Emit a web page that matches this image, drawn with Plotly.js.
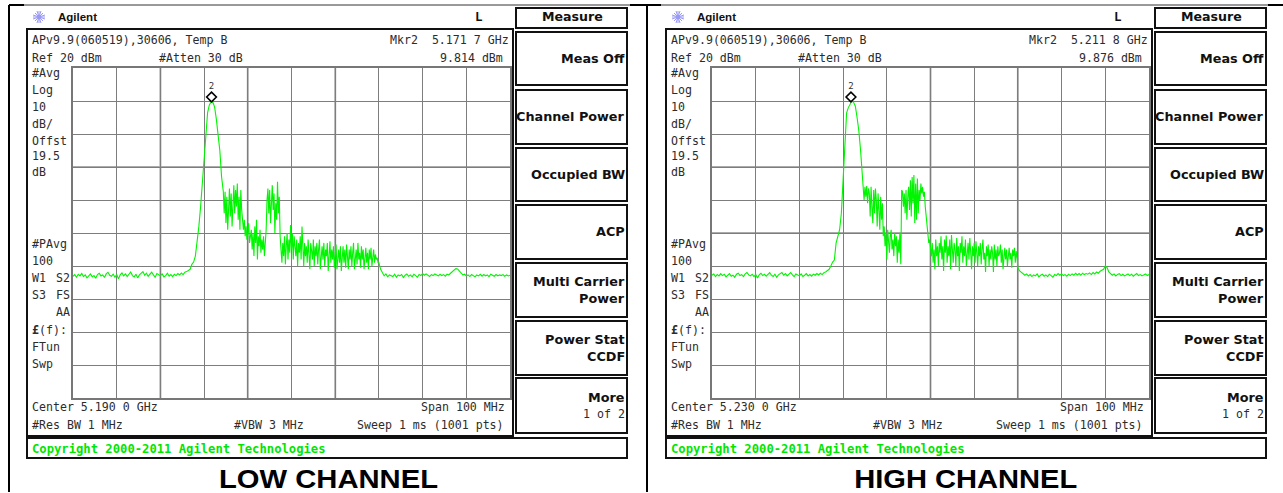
<!DOCTYPE html>
<html><head><meta charset="utf-8">
<script src="https://cdn.plot.ly/plotly-3.0.1.min.js"></script>
<style>html,body{margin:0;padding:0;background:#fff}#c{width:1283px;height:493px}</style></head>
<body><div id="c"></div>
<script>
// Readings in dBm. Lead: 0 to 34.4 MHz of the span, every 0.4 MHz.
// Burst: 34.6 to 69.8 MHz, every 0.2 MHz. Tail: 70 to 100 MHz, every 0.4 MHz.
const lowLeadDbm = [
-43.1,-42.6,-43.4,-42.5,-43.0,-42.3,-43.2,-42.7,-43.6,-42.8,
-42.4,-43.3,-42.9,-43.7,-42.6,-42.2,-43.0,-42.7,-43.5,-42.4,
-41.9,-42.8,-43.1,-42.5,-43.4,-42.6,-43.9,-42.7,-42.1,-43.0,
-42.4,-43.2,-42.6,-41.8,-42.9,-43.3,-42.5,-43.6,-42.7,-42.3,
-41.7,-42.8,-42.2,-43.1,-42.6,-41.9,-42.7,-43.4,-42.3,-42.8,
-43.0,-42.4,-43.3,-42.9,-42.2,-43.1,-42.6,-43.2,-42.5,-42.9,
-42.3,-42.7,-42.1,-42.6,-41.9,-41.7,-41.2,-41.0,-39.5,-38.8,
-37.0,-33.0,-28.0,-22.0,-15.0,-7.0,2.0,6.5,8.8,9.7,
9.6,8.2,4.5,0.0,-5.0,-13.0,-17.5
];
const lowBurstDbm = [
-24,-17.5,-27,-19,-29,-21,-16.5,-25,-18,-28,-20,-15.5,-24,-17,-22,-15,-26,-19,-29,-17,
-23,-27,-29,-26,-31,-28,-32,-30,-27,-33,-31,-29,-35,-30,-37,-28,-33,-26,-38,-31,-34,-29,-36,-32,-35,-31,-37,-33,
-29,-20,-16.5,-24,-17,-27,-19,-15.5,-23,-18,-30,-21,-26,-14.5,-24,-19,-31,
-36,-39,-33,-37,-31,-39.5,-34,-30,-38,-32,
-36,-27.6,-35,-30,-38,-31,-34,-37,-32,-40,
-33,-36,-31,-38,-28,-35,-40,-33,-37,-34,
-39,-32,-36,-41,-33,-35,-38,-32,-40,-34,
-37,-33,-39.5,-35,-32,-41,-36,-34,-38,-33,
-40,-35,-37,-33,-41.5,-36,-32.5,-39,-35,-38,
-34,-40.5,-36,-33.5,-41,-37,-35,-39,-34,-41.5,
-36,-34,-39,-35,-40.5,-33.5,-37,-41,-35,-38,
-34,-40,-36,-33,-41,-37,-35,-39.5,-33,-38,
-36,-40.5,-34,-38,-35,-41,-36,-34.5,-39,-36,
-41,-35,-38,-34.5,-40,-36,-35,-39,-36.5,-38,
-37.5,-39
];
const lowTailDbm = [
-39,-41,-42.2,-43,-42.4,-43.3,-42.7,-42.9,-43.2,-42.5,
-43.4,-42.7,-43,-42.6,-43.5,-42.8,-42.4,-43.1,-42.7,-43.3,
-42.5,-42.9,-43.4,-42.6,-42.9,-42.3,-42.8,-42.4,-42.9,-43.2,
-42.6,-42.9,-42.4,-42.7,-43,-42.5,-42.9,-42.6,-43.1,-42.5,
-42.7,-42.2,-41.7,-41.1,-40.8,-40.9,-41.6,-42.3,-42.7,-42.5,
-43,-42.7,-43.2,-42.6,-42.9,-43.3,-42.7,-43,-42.5,-43.1,
-42.6,-43,-42.7,-43.2,-42.5,-42.9,-43.1,-42.6,-43,-42.7,
-42.9,-42.6,-43.1,-42.7,-43,-42.8
];
const highLeadDbm = [
-42.8,-42.4,-43.2,-42.6,-43.0,-42.3,-42.9,-42.5,-43.3,-42.7,
-42.3,-43.1,-42.8,-43.4,-42.5,-42.2,-42.9,-42.6,-43.2,-42.4,
-42.0,-42.7,-43.0,-42.5,-43.2,-42.6,-43.6,-42.7,-42.2,-42.9,
-42.5,-43.1,-42.6,-42.0,-42.8,-43.2,-42.5,-43.4,-42.7,-42.3,
-42.0,-42.8,-42.3,-43.0,-42.6,-42.0,-42.7,-43.2,-42.4,-42.8,
-43.0,-42.4,-43.2,-42.8,-42.3,-43.0,-42.6,-43.1,-42.5,-42.8,
-42.3,-42.7,-42.2,-42.6,-42.0,-41.8,-41.4,-41.0,-40.0,-38.8,
-38.2,-33.0,-31.0,-29.0,-24.0,-14.0,-1.0,6.4,8.0,8.8,
10.0,9.6,8.4,5.0,1.0,-5.0,-13.0
];
const highBurstDbm = [
-15.5,-20,-16,-19,-15.8,-21,-16.5,-18,-25,-16,-22,-27,-17,-24,-16.5,-20,-28,-18,-23,-29,-19,-26,-21,
-31,-28,-34,-30,-38,-29,-33,-36,-31,-29,-35,-32,-37,-30,-34,-31,-39,-32,-36,-30,-39.5,
-17,-17.5,-22,-18,-24,-17,-26,-19,-16,-23,-14,-25,-13,-21,-12.4,-27,-15,-26,-13.5,-24,-17,-20,-15,-18,-16,-19,-17.5,-22,-25,-28,-30,-33,-32,
-34,-37,-33,-39,-35,-41,-32,-37,-34,-40,
-33,-36,-31,-38,-34,-41.5,-32,-36,-30.8,-39,
-34,-37,-32,-41,-30.6,-36,-39,-33,-35,-40,
-31.5,-37,-34,-41.5,-33,-36,-31,-39,-34,-37,
-32,-40,-35,-33,-38,-31.5,-36,-41,-34,-37,
-33,-39,-32.5,-36,-40,-34,-37,-33,-39.5,-35,
-32,-38,-36,-41.8,-34,-37,-33.5,-40,-35,-38,
-34,-36,-41.8,-33.5,-38,-35,-40,-34,-37,-36,
-33.5,-39,-35,-41,-36,-34.5,-38,-35,-40,-36,
-34.5,-38,-36,-40.5,-35,-37,-34.5,-39,-35.5,-37.5
];
const highTailDbm = [
-40.6,-41.5,-42.0,-42.4,-42.8,-42.4,-43,-42.6,-43.2,-42.7,
-43,-42.4,-43.3,-42.8,-42.5,-43.1,-42.7,-43.2,-42.5,-42.9,
-43.4,-42.6,-42.9,-42.3,-42.8,-42.4,-42.9,-42.6,-43.1,-42.5,
-42.9,-42.4,-42.8,-42.2,-42.7,-42.3,-42.8,-42.2,-42.6,-42.3,
-42.5,-42.1,-42.6,-42,-42.4,-41.8,-42.2,-41.6,-41.4,-41,
-40,-40.5,-41.8,-42.3,-42.8,-42.4,-43,-42.6,-42.3,-42.9,
-42.5,-43,-42.7,-42.4,-42.9,-42.5,-43.1,-42.7,-42.3,-42.9,
-42.6,-43,-42.7,-42.4,-42.9,-42.6
];
const markerLowMHz = 5171.7, markerHighMHz = 5211.8;
const markerTopDbm = 11.2;
const startLowMHz = 5140, startHighMHz = 5180, spanMHz = 100;
const softKeys = ['Meas Off','Channel Power','Occupied BW','ACP'];
const captions = ['LOW CHANNEL','HIGH CHANNEL'];
const wideGridLow = [5160, 5180, 5200], wideGridHigh = [5230, 5250];
const wideLevelsLow = [-10], wideLevelsHigh = [-10, -30];

const W = 1283, H = 493, PANEL = 639;
const px = v => v / W, py = v => 1 - v / H;
const MONO = '"DejaVu Sans Mono", monospace', SANS = '"Liberation Sans", Arial, sans-serif', KEY = '"DejaVu Sans", sans-serif';
const ink = '#2c2c2c';

const annotations = [], shapes = [];
function text(t, x, y, o = {}) {
  annotations.push({text: t, xref: 'paper', yref: 'paper', x: px(x), y: py(y), showarrow: false,
    xanchor: o.a || 'left', yanchor: 'middle', borderpad: 0,
    font: {family: o.f || MONO, size: o.s || 11.6, color: o.c || ink, weight: o.b ? 'bold' : 'normal'}});
}
function box(x0, y0, x1, y1, w = 2, c = '#111') {
  shapes.push({type: 'rect', xref: 'paper', yref: 'paper', x0: px(x0), x1: px(x1), y0: py(y0), y1: py(y1),
    line: {color: c, width: w}, layer: 'below'});
}
function seg(x0, y0, x1, y1, w, c) {
  shapes.push({type: 'line', xref: 'paper', yref: 'paper', x0: px(x0), x1: px(x1), y0: py(y0), y1: py(y1),
    line: {color: c, width: w}, layer: 'below'});
}
function wide(xs, levels, xa, ya) {
  xs.forEach(v => shapes.push({type: 'line', xref: xa, yref: 'paper', x0: v, x1: v, y0: py(398), y1: py(68),
    line: {color: '#ababab', width: 2}, layer: 'below'}));
  levels.forEach(v => shapes.push({type: 'line', xref: 'paper', yref: ya,
    x0: px(xa === 'x' ? 73 : 73 + PANEL), x1: px(xa === 'x' ? 510 : 510 + PANEL), y0: v, y1: v,
    line: {color: '#ababab', width: 2}, layer: 'below'}));
}

function panel(dx, o) {
  box(516 + dx, 8, 627 + dx, 28);
  [[32,85],[90,144],[148,201],[205,259],[263,317],[321,375],[378,433]].forEach(r => box(516 + dx, r[0], 627 + dx, r[1]));
  box(27 + dx, 29, 513 + dx, 436);
  box(27 + dx, 438, 627 + dx, 458);
  const kx = 625.5 + dx, kf = {a: 'right', b: 1, s: 12.8, c: '#111', f: KEY};
  text('Measure', 572 + dx, 17, {a: 'center', b: 1, s: 12.6, c: '#111', f: KEY});
  softKeys.forEach((k, i) => text(k, kx, [58, 116.5, 174, 231][i], kf));
  text('Multi Carrier', kx, 281, kf); text('Power', kx, 298, kf);
  text('Power Stat', kx, 339, kf); text('CCDF', kx, 356, kf);
  text('More', kx, 397, kf); text('1 of 2', kx, 414, {a: 'right', s: 11.6});
  const sx = 39 + dx;
  [[-6,0,6,0],[0,-6,0,6],[-4,-4,4,4],[-4,4,4,-4],[-2,-6,2,6],[2,-6,-2,6],[-6,-2,6,2],[-6,2,6,-2]].forEach(l =>
    seg(sx + l[0], 17 + l[1], sx + l[2], 17 + l[3], 1, '#9a9af5'));
  text('Agilent', 57 + dx, 17, {f: SANS, b: 1, s: 11.5, c: '#111'});
  text('L', 479 + dx, 17, {a: 'center', b: 1, s: 12.5, c: '#111'});
  text('APv9.9(060519),30606, Temp B', 31 + dx, 40);
  text(o.mkr, 510 + dx, 40, {a: 'right'});
  text('Ref 20 dBm', 31 + dx, 58);
  text('#Atten 30 dB', 158 + dx, 58);
  text(o.lvl, 504 + dx, 58, {a: 'right'});
  [['#Avg',73],['Log',90],['10',107],['dB/',124],['Offst',141],['19.5',156],['dB',172],['#PAvg',244],['100',261],
   ['W1',278],['S3',295]].forEach(r => text(r[0], 31 + dx, r[1]));
  text('S2', 71 + dx, 278, {a: 'right'});
  text('FS', 71 + dx, 295, {a: 'right'});
  text('AA', 71 + dx, 312, {a: 'right'});
  text('<b>£</b>(f):', 31 + dx, 330);
  text('FTun', 31 + dx, 347);
  text('Swp', 31 + dx, 364);
  text(o.center, 31 + dx, 407);
  text('Span 100 MHz', 506 + dx, 407, {a: 'right'});
  text('#Res BW 1 MHz', 31 + dx, 425);
  text('#VBW 3 MHz', 233 + dx, 425);
  text('Sweep 1 ms (1001 pts)', 505 + dx, 425, {a: 'right'});
  text('Copyright 2000-2011 Agilent Technologies', 31 + dx, 449, {b: 1, s: 12.2, c: '#00e600'});
  text(o.cap, o.capx, 479, {a: 'center', f: SANS, b: 1, s: 26, c: '#000'});
}
panel(0, {mkr: 'Mkr2  5.171 7 GHz', lvl: '9.814 dBm', center: 'Center 5.190 0 GHz', cap: captions[0], capx: 328});
panel(PANEL, {mkr: 'Mkr2  5.211 8 GHz', lvl: '9.876 dBm', center: 'Center 5.230 0 GHz', cap: captions[1], capx: 965});

// outer frame
seg(9, 5, 9, 492, 2, '#000');
seg(647, 5, 647, 492, 2, '#000');
seg(9, 5, 1283, 5, 1, '#333');
[[9,24],[630,661],[1268,1283]].forEach(s => seg(s[0], 5, s[1], 5, 2, '#000'));
wide(wideGridLow, wideLevelsLow, 'x', 'y');
wide(wideGridHigh, wideLevelsHigh, 'x2', 'y2');

const axisX = (s, dx, anchor) => ({domain: [px(73 + dx), px(510 + dx)], range: [s, s + spanMHz], dtick: 10, tick0: s,
  showticklabels: false, ticks: '', zeroline: false, showgrid: true, gridcolor: '#7d7d7d', gridwidth: 1,
  showline: true, mirror: true, linecolor: '#777', linewidth: 2, anchor});
const axisY = (anchor) => ({domain: [py(398), py(68)], range: [-80, 20], dtick: 10, tick0: 20,
  showticklabels: false, ticks: '', zeroline: false, showgrid: true, gridcolor: '#7d7d7d', gridwidth: 1,
  showline: true, mirror: true, linecolor: '#777', linewidth: 2, anchor});

function sweepX(start, lead, burst, tail) {
  return [...lead.map((_, i) => start + i * 0.4), ...burst.map((_, i) => start + 34.6 + i * 0.2), ...tail.map((_, i) => start + 70 + i * 0.4)];
}
const line = (s, lead, burst, tail, xa, ya) => ({type: 'scatter', mode: 'lines', x: sweepX(s, lead, burst, tail), y: [...lead, ...burst, ...tail],
  xaxis: xa, yaxis: ya, line: {color: '#00f500', width: 1.1}, hoverinfo: 'skip'});
const mark = (x, xa, ya) => ({type: 'scatter', mode: 'markers+text', x: [x], y: [markerTopDbm], text: ['2'], textposition: 'top center',
  textfont: {family: MONO, size: 9, color: '#333'}, xaxis: xa, yaxis: ya, cliponaxis: false,
  marker: {symbol: 'diamond-open', size: 7.5, color: '#000', line: {color: '#000', width: 1.6}}, hoverinfo: 'skip'});

Plotly.newPlot('c', [
  line(startLowMHz, lowLeadDbm, lowBurstDbm, lowTailDbm, 'x', 'y'), mark(markerLowMHz, 'x', 'y'),
  line(startHighMHz, highLeadDbm, highBurstDbm, highTailDbm, 'x2', 'y2'), mark(markerHighMHz, 'x2', 'y2')
], {
  width: W, height: H, showlegend: false, paper_bgcolor: '#fff', plot_bgcolor: 'rgba(0,0,0,0)',
  margin: {l: 0, r: 0, t: 0, b: 0},
  xaxis: axisX(startLowMHz, 0, 'y'), yaxis: axisY('x'),
  xaxis2: axisX(startHighMHz, PANEL, 'y2'), yaxis2: axisY('x2'),
  shapes, annotations
}, {staticPlot: true, displayModeBar: false}).then(() => {
  // captions are set wider than the font's natural width in the reference
  const widths = {[captions[0]]: 219, [captions[1]]: 223};
  document.querySelectorAll('.annotation-text').forEach(t => {
    const w = widths[t.textContent];
    if (w) { t.setAttribute('textLength', w); t.setAttribute('lengthAdjust', 'spacingAndGlyphs'); }
  });
});
</script></body></html>
